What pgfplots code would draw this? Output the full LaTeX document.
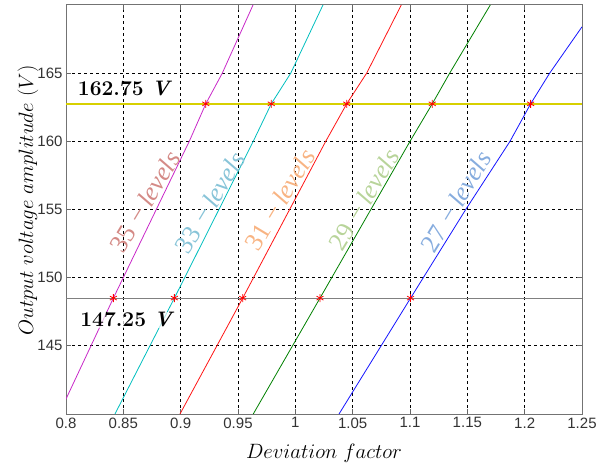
\documentclass[border=0pt]{standalone}
\usepackage{pgfplots}
\pgfplotsset{compat=1.18}
\usepackage{fontspec}
\newfontfamily\arial{Liberation Sans}
\newfontfamily\cam{Liberation Serif}
\definecolor{cmag}{RGB}{200,40,200}
\definecolor{ccyan}{RGB}{0,190,190}
\definecolor{cred}{RGB}{255,20,20}
\definecolor{cgreen}{RGB}{0,128,0}
\definecolor{cblue}{RGB}{20,20,255}
\definecolor{cyel}{RGB}{215,208,0}
\definecolor{tA}{RGB}{212,138,134}
\definecolor{tB}{RGB}{136,196,216}
\definecolor{tC}{RGB}{248,180,131}
\definecolor{tD}{RGB}{184,212,154}
\definecolor{tE}{RGB}{134,172,222}
\begin{document}
\begin{tikzpicture}
\begin{axis}[
  scale only axis, width=516pt, height=409pt,
  xmin=0.8, xmax=1.25, ymin=140, ymax=170,
  xtick={0.8,0.85,0.9,0.95,1,1.05,1.1,1.15,1.2,1.25},
  ytick={145,150,155,160,165},
  grid=major,
  grid style={black, dash pattern=on 3pt off 3pt, line width=0.7pt},
  axis line style={black!55, line width=1pt},
  tick style={black!60, line width=0.7pt},
  tick align=inside, major tick length=5pt,
  ticklabel style={font=\arial\fontsize{15}{15}\selectfont, text=black!80},
  /pgf/number format/assume math mode=true,
  xticklabel style={/pgf/number format/fixed, /pgf/number format/precision=2},
  xlabel={$Deviation\ factor$},
  ylabel={$Output\ voltage\ amplitude\ (V)$},
  label style={font=\fontsize{21}{21}\selectfont},
  xlabel style={at={(axis description cs:0.5,-0.0954)}, anchor=center},
  ylabel style={at={(axis description cs:-0.0736,0.522)}, anchor=center},
]
\addplot[cmag, line width=0.8pt] coordinates {(0.8,141.1) (0.8413,148.5) (0.9075,160) (0.9219,162.75) (0.9363,165) (0.9631,170)};
\addplot[ccyan, line width=0.8pt] coordinates {(0.8427,140) (0.8945,148.5) (0.9633,160) (0.979,162.75) (0.996,165) (1.0241,170)};
\addplot[cred, line width=0.8pt] coordinates {(0.8994,140) (0.9541,148.5) (1.0265,160) (1.0448,162.75) (1.0622,165) (1.0924,170)};
\addplot[cgreen, line width=0.8pt] coordinates {(0.9633,140) (1.0215,148.5) (1.1,160) (1.1194,162.75) (1.1346,165) (1.17,170)};
\addplot[cblue, line width=0.8pt] coordinates {(1.0381,140) (1.1005,148.5) (1.1486,155) (1.1872,160) (1.2052,162.75) (1.2218,165) (1.25,168.4)};
\addplot[black!50, line width=1pt] coordinates {(0.8,148.5) (1.25,148.5)};
\addplot[cyel, line width=1.4pt] coordinates {(0.8,162.75) (1.25,162.75)};
\addplot[only marks, red, mark=asterisk, mark size=4pt, mark options={line width=0.8pt}] coordinates {
 (0.8413,148.5) (0.8945,148.5) (0.9541,148.5) (1.0215,148.5) (1.1005,148.5)
 (0.9219,162.75) (0.979,162.75) (1.0448,162.75) (1.1194,162.75) (1.2052,162.75)};
\coordinate (LA) at (axis cs:0.8515,163.9);
\coordinate (LB) at (axis cs:0.8536,146.9);
\coordinate (T1) at (axis cs:0.8689,155.55);
\coordinate (T2) at (axis cs:0.9256,155.5);
\coordinate (T3) at (axis cs:0.9866,155.7);
\coordinate (T4) at (axis cs:1.0599,155.7);
\coordinate (T5) at (axis cs:1.1401,155.55);
\end{axis}
\node[font=\bfseries\fontsize{21}{21}\selectfont, inner sep=1pt] at (LA) {162.75 \textit{V}};
\node[font=\bfseries\fontsize{21}{21}\selectfont, inner sep=1pt, fill=white, fill opacity=0.7, text opacity=1] at (LB) {147.25 \textit{V}};
\node[font=\cam\fontsize{26}{26}\selectfont, text=tA, rotate=59] at (T1) {35\,\,−\,\textit{levels}};
\node[font=\cam\fontsize{26}{26}\selectfont, text=tB, rotate=59] at (T2) {33\,\,−\,\textit{levels}};
\node[font=\cam\fontsize{26}{26}\selectfont, text=tC, rotate=59] at (T3) {31\,\,−\,\textit{levels}};
\node[font=\cam\fontsize{26}{26}\selectfont, text=tD, rotate=59] at (T4) {29\,\,−\,\textit{levels}};
\node[font=\cam\fontsize{26}{26}\selectfont, text=tE, rotate=59] at (T5) {27\,\,−\,\textit{levels}};
\pgfresetboundingbox
\path[use as bounding box] (current axis.south west) ++(-66pt,-54pt) rectangle ([xshift=16pt,yshift=5pt]current axis.north east);
\end{tikzpicture}
\end{document}
